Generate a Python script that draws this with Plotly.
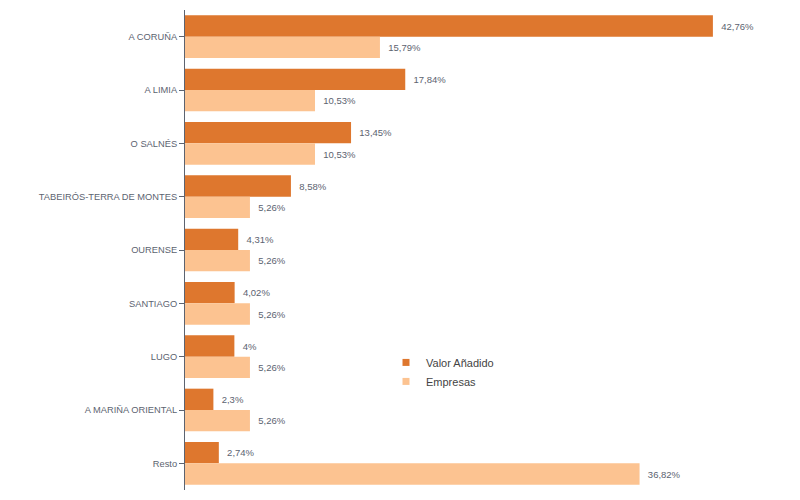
import plotly.graph_objects as go

categories = ["A CORUÑA", "A LIMIA", "O SALNÉS", "TABEIRÓS-TERRA DE MONTES", "OURENSE",
              "SANTIAGO", "LUGO", "A MARIÑA ORIENTAL", "Resto"]
valor_anadido = [42.76, 17.84, 13.45, 8.58, 4.31, 4.02, 4, 2.3, 2.74]
empresas = [15.79, 10.53, 10.53, 5.26, 5.26, 5.26, 5.26, 5.26, 36.82]
series_names = ["Valor Añadido", "Empresas"]
series_colors = ["#DE772E", "#FCC391"]

def fmt(v):
    return f"{v:g}".replace(".", ",") + "%"

txt_col = "#5c6370"

fig = go.Figure()
for name, vals, col in zip(series_names, [valor_anadido, empresas], series_colors):
    fig.add_trace(go.Bar(y=categories, x=vals, orientation="h", name=name, showlegend=False,
                         marker=dict(color=col, line=dict(width=0)),
                         text=[fmt(v) for v in vals], texttemplate="  %{text}",
                         textposition="outside",
                         textfont=dict(size=9.5, color=txt_col), cliponaxis=False))
# legend entries with small square markers
for name, col in zip(series_names, series_colors):
    fig.add_trace(go.Scatter(x=[None], y=[None], mode="markers", name=name,
                             marker=dict(symbol="square", size=7, color=col)))

fig.update_layout(
    width=792, height=492,
    margin=dict(l=177, r=15, t=2, b=10, autoexpand=False),
    barmode="group", bargap=0.2, bargroupgap=0,
    plot_bgcolor="white", paper_bgcolor="white",
    font=dict(family="Liberation Sans, Arial, sans-serif", size=10, color=txt_col),
    xaxis=dict(range=[0, 48.6], visible=False, showgrid=False, zeroline=False),
    yaxis=dict(autorange="reversed", showline=True, linecolor="#5c6370", linewidth=1,
               ticks="outside", ticklen=5, tickcolor="#5c6370", showgrid=False,
               automargin=False, tickfont=dict(size=9.3, color=txt_col)),
    legend=dict(x=0.335, y=0.296, xanchor="left", yanchor="top", bgcolor="rgba(0,0,0,0)",
                font=dict(size=11, color="#444444"), itemwidth=30),
)

fig.write_html("out.html")
